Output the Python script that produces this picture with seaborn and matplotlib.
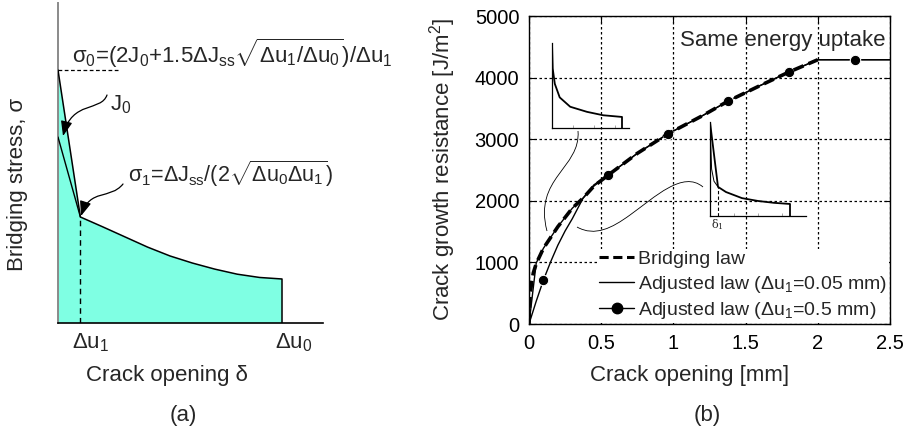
import matplotlib
matplotlib.use("Agg")
import matplotlib.pyplot as plt
import seaborn as sns
from matplotlib.path import Path
from matplotlib.patches import PathPatch, FancyArrowPatch
from matplotlib.lines import Line2D

# ---------------- (a) schematic bridging law (normalised units) ----------------
du1 = 0.1          # Δu1
du0 = 1.0          # Δu0
sigma0 = 1.0       # σ0 of the adjusted law
sigma_j0 = 0.735   # start of the J0 line
law_x = [0.1, 0.2, 0.3, 0.4, 0.5, 0.6, 0.7, 0.8, 0.9, 1.0]
law_s = [0.419, 0.38, 0.34, 0.30, 0.265, 0.237, 0.213, 0.193, 0.18, 0.174]

# ---------------- (b) crack growth resistance curves ----------------
bridge_x = [0, 0.005, 0.01, 0.02, 0.03, 0.05, 0.1, 0.2, 0.3, 0.375, 0.45, 0.55,
            0.75, 0.96, 1.2, 1.38, 1.6, 1.8, 2.0]
bridge_y = [0, 350, 520, 700, 830, 980, 1230, 1580, 1880, 2045, 2240, 2420,
            2770, 3084, 3380, 3620, 3870, 4090, 4290]

adj005_x = [0, 0.05, 0.1, 0.2, 0.3, 0.375, 0.45, 0.55, 0.75, 0.96, 1.2, 1.38,
            1.6, 1.8, 2.0, 2.5]
adj005_y = [0, 990, 1230, 1580, 1880, 2045, 2240, 2420, 2770, 3084, 3380, 3620,
            3870, 4090, 4290, 4290]

adj05_x = [0, 0.05, 0.1, 0.15, 0.2, 0.25, 0.3, 0.375, 0.45, 0.55, 0.75, 0.96,
           1.2, 1.38, 1.6, 1.8, 2.0, 2.26, 2.5]
adj05_y = [0, 370, 714, 1010, 1280, 1510, 1710, 2045, 2260, 2420, 2770, 3084,
           3380, 3620, 3870, 4090, 4290, 4290, 4290]
adj05_marks = [2, 9, 11, 13, 15, 17]

x_ticks = [0, 0.5, 1, 1.5, 2, 2.5]
x_ticklabels = ["0", "0.5", "1", "1.5", "2", "2.5"]
y_ticks = [0, 1000, 2000, 3000, 4000, 5000]

legend_labels = ["Bridging law",
                 r"Adjusted law ($\Delta$u$_1$=0.05 mm)",
                 r"Adjusted law ($\Delta$u$_1$=0.5 mm)"]

# inset shapes (normalised)
ins1_x = [0, 0.01, 0.04, 0.11, 0.26, 0.5, 0.73, 1.0, 1.0]
ins1_y = [1.0, 0.70, 0.52, 0.36, 0.25, 0.19, 0.15, 0.13, 0.0]
ins2_x = [0, 0.1, 0.2, 0.4, 0.6, 0.8, 1.0, 1.0]
ins2_y = [1.0, 0.31, 0.255, 0.19, 0.16, 0.14, 0.128, 0.0]
ins2_d1 = 0.1

sns.set_theme(style="ticks")
plt.rcParams["font.family"] = ["Liberation Sans", "DejaVu Sans"]
plt.rcParams["mathtext.fontset"] = "custom"
plt.rcParams["mathtext.rm"] = "Liberation Sans"
plt.rcParams["mathtext.it"] = "Liberation Sans"
plt.rcParams["mathtext.bf"] = "Liberation Sans:bold"
plt.rcParams["mathtext.default"] = "regular"

W, H = 906, 432
fig = plt.figure(figsize=(W / 100, H / 100), dpi=100)


def px(x, y):
    return (x / W, 1 - y / H)


def rect(x0, y0, x1, y1):
    return [x0 / W, 1 - y1 / H, (x1 - x0) / W, (y1 - y0) / H]


# ================= panel (a) =================
axL = fig.add_axes(rect(58, 3, 323, 323))
axL.set_xlim(0, 1.183)
axL.set_ylim(0, 1.265)
axL.set_facecolor("none")
for s in ["top", "right"]:
    axL.spines[s].set_visible(False)
axL.spines["left"].set_color("#8a8a8a")
axL.spines["left"].set_linewidth(1.4)
axL.spines["bottom"].set_color("black")
axL.spines["bottom"].set_linewidth(1.2)
axL.set_xticks([])
axL.set_yticks([])

fill_x = [0, 0] + law_x + [du0]
fill_y = [0, sigma0] + law_s + [0]
axL.fill(fill_x, fill_y, color="#7fffe3", lw=0, zorder=1)
sns.lineplot(x=[0] + law_x + [du0], y=[sigma0] + law_s + [0], ax=axL,
             sort=False, estimator=None, color="black", lw=1.1, zorder=3)
sns.lineplot(x=[0, du1], y=[sigma_j0, law_s[0]], ax=axL, sort=False,
             estimator=None, color="black", lw=1.0, zorder=3)
axL.plot([du1, du1], [0, law_s[0]], color="black", lw=1.0, ls=(0, (4, 3)), zorder=3)
axL.plot([0, 0.277], [sigma0, sigma0], color="black", lw=0.9, ls=(0, (3, 2)), zorder=3)

fig.text(*px(72, 63), r"σ$_0$=(2J$_0$+1.5ΔJ$_{ss}\sqrt{\Delta u_1/\Delta u_0}$)/Δu$_1$",
         fontsize=16, ha="left", va="baseline")
fig.text(*px(110, 110), r"J$_0$", fontsize=16, ha="left", va="baseline")
fig.text(*px(128, 182), r"σ$_1$=ΔJ$_{ss}$/(2$\sqrt{\Delta u_0\Delta u_1}$)",
         fontsize=15.5, ha="left", va="baseline")
fig.text(*px(91, 343), r"Δu$_1$", fontsize=16, ha="center", va="center")
fig.text(*px(294, 343), r"Δu$_0$", fontsize=16, ha="center", va="center")
fig.text(*px(167, 375), "Crack opening δ", fontsize=16, ha="center", va="center")
fig.text(*px(183, 415), "(a)", fontsize=16, ha="center", va="center")
fig.text(*px(18, 184), "Bridging stress, σ", fontsize=16, ha="center",
         va="center", rotation=90)


def fig_path(points, codes):
    return Path([px(*p) for p in points], codes)


C4 = [Path.MOVETO, Path.CURVE4, Path.CURVE4, Path.CURVE4]
arrow_style = "-|>,head_length=0.9,head_width=0.35"
for pts in ([(107, 95), (101, 112), (72, 100), (63, 136)],
            [(123, 184), (110, 200), (90, 188), (81, 216)]):
    fig.add_artist(FancyArrowPatch(path=fig_path(pts, C4), arrowstyle=arrow_style,
                                   mutation_scale=10, lw=0.9, color="black",
                                   transform=fig.transFigure))

# ================= panel (b) =================
axR = fig.add_axes(rect(529, 16, 890, 324))
axR.set_xlim(0, 2.5)
axR.set_ylim(0, 5000)
axR.set_xticks(x_ticks)
axR.set_xticklabels(x_ticklabels)
axR.set_yticks(y_ticks)
axR.tick_params(direction="in", top=True, right=True, length=4, width=0.8,
                labelsize=14.5, pad=7, colors="black")
for s in axR.spines.values():
    s.set_color("black")
    s.set_linewidth(1.0)
axR.set_axisbelow(True)
axR.grid(True, color="black", lw=0.9, ls=(0, (2, 2)))

sns.lineplot(x=bridge_x, y=bridge_y, ax=axR, sort=False, estimator=None,
             color="black", lw=2.6, linestyle=(0, (3, 1.5)), zorder=4)
sns.lineplot(x=adj005_x, y=adj005_y, ax=axR, sort=False, estimator=None,
             color="black", lw=1.0, zorder=3)
sns.lineplot(x=adj05_x, y=adj05_y, ax=axR, sort=False, estimator=None,
             color="black", lw=1.0, marker="o", markersize=7.5,
             markevery=adj05_marks, zorder=3)

axR.text(1.045, 4610, "Same energy uptake", fontsize=16, ha="left", va="center")

handles = [Line2D([], [], color="black", lw=2.2, ls=(0, (3, 1.5))),
           Line2D([], [], color="black", lw=1.0),
           Line2D([], [], color="black", lw=1.0, marker="o", markersize=7.5)]
leg = axR.legend(handles, legend_labels, loc="lower right", fontsize=14,
                 frameon=True, fancybox=False, facecolor="white",
                 edgecolor="none", framealpha=1, handlelength=1.8,
                 handletextpad=0.2, labelspacing=0.28, borderpad=0.1,
                 borderaxespad=0.05)
leg.set_zorder(5)

fig.text(*px(443, 170), "Crack growth resistance [J/m$^2$]", fontsize=16,
         ha="center", va="center", rotation=90)
fig.text(*px(690, 375), "Crack opening [mm]", fontsize=16, ha="center", va="center")
fig.text(*px(707, 415), "(b)", fontsize=16, ha="center", va="center")


def inset(r, xmax):
    a = fig.add_axes(r)
    a.set_facecolor("none")
    a.set_xlim(0, xmax)
    a.set_ylim(0, 1.0)
    for s in ["top", "right"]:
        a.spines[s].set_visible(False)
    for s in ["left", "bottom"]:
        a.spines[s].set_color("black")
        a.spines[s].set_linewidth(0.9)
    a.set_yticks([])
    a.set_xticks([0.3, 0.6, 0.9])
    a.tick_params(axis="x", direction="in", length=2.5, width=0.6,
                  colors="#999999", labelbottom=False)
    return a


in1 = inset(rect(552, 43, 629, 128), 1.1)
sns.lineplot(x=ins1_x, y=ins1_y, ax=in1, sort=False, estimator=None,
             color="black", lw=1.3)

in2 = inset(rect(710, 122, 806, 216), 1.2)
sns.lineplot(x=ins2_x, y=ins2_y, ax=in2, sort=False, estimator=None,
             color="black", lw=1.3)
in2.plot([0, 0.02, 0.05, ins2_d1], [1.0, 0.5, 0.37, ins2_y[1]], color="black", lw=0.7)
in2.plot([ins2_d1, ins2_d1], [0, ins2_y[1]], color="black", lw=0.8, ls=(0, (3, 2)))
fig.text(*px(717, 225), r"δ$_1$", fontsize=8, family="DejaVu Serif",
         ha="center", va="center")

# thin connectors from the sketches to their curves
conn1 = fig_path([(578, 131), (581, 168), (533, 178), (547, 231)], C4)
conn2 = Path([px(*p) for p in [(577, 227), (595, 237), (612, 228), (630, 215),
                                (655, 197), (683, 170), (703, 187)]],
             [Path.MOVETO, Path.CURVE4, Path.CURVE4, Path.CURVE4,
              Path.CURVE4, Path.CURVE4, Path.CURVE4])
for p in (conn1, conn2):
    fig.add_artist(PathPatch(p, fill=False, lw=0.6, edgecolor="black",
                             transform=fig.transFigure))

fig.savefig("out.png", dpi=100)
